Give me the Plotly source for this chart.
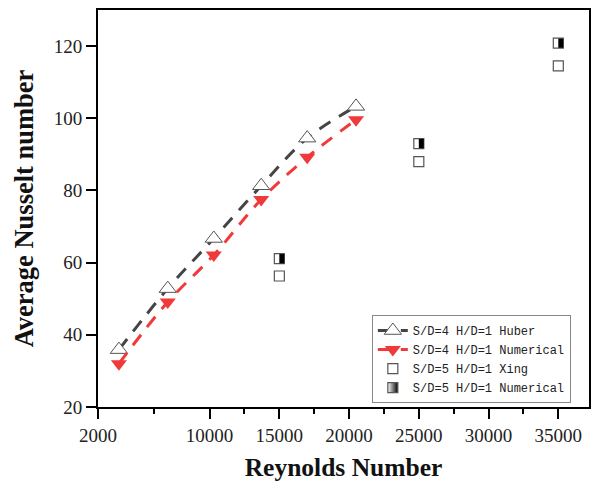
import plotly.graph_objects as go

re_huber = [3500, 7000, 10300, 13700, 17000, 20500]
nu_huber = [35.9, 52.8, 66.7, 81.3, 94.5, 103.3]
re_num4 = [3500, 7000, 10300, 13700, 17000, 20500]
nu_num4 = [32.0, 49.1, 62.1, 77.5, 89.2, 99.6]
re_xing = [15000, 25000, 35000]
nu_xing = [56.3, 88.0, 114.5]
re_num5 = [15000, 25000, 35000]
nu_num5 = [61.1, 93.0, 120.8]

x_ticks = [2000, 10000, 15000, 20000, 25000, 30000, 35000]
x_minor = [6000, 12500, 17500, 22500, 27500, 32500]
y_ticks = [20, 40, 60, 80, 100, 120]

X_RANGE = [2000, 37200]
HALF_SHIFT = 178  # axis offset so the black bar sits on the right half of the square

fig = go.Figure()
fig.add_trace(go.Scatter(
    x=re_huber, y=nu_huber, mode="lines+markers", name="S/D=4 H/D=1 Huber",
    line=dict(color="#454545", width=3, dash="13px,10px", shape="spline"),
    marker=dict(symbol="triangle-up", size=15, color="white",
                line=dict(color="#555555", width=1)),
))
fig.add_trace(go.Scatter(
    x=re_num4, y=nu_num4, mode="lines+markers", name="S/D=4 H/D=1 Numerical",
    line=dict(color="#f03a3a", width=3, dash="13px,10px", shape="spline"),
    marker=dict(symbol="triangle-down", size=14, color="#f03a3a",
                line=dict(color="#f03a3a", width=0)),
))
fig.add_trace(go.Scatter(
    x=re_xing, y=nu_xing, mode="markers", name="S/D=5 H/D=1 Xing",
    marker=dict(symbol="square", size=10, color="white",
                line=dict(color="#555555", width=1.2)),
))
fig.add_trace(go.Scatter(
    x=re_num5, y=nu_num5, mode="markers", showlegend=False,
    marker=dict(symbol="square", size=10, color="white",
                line=dict(color="#555555", width=1.2)),
))
fig.add_trace(go.Scatter(
    x=re_num5, y=nu_num5, mode="markers", showlegend=False, xaxis="x2",
    marker=dict(symbol="line-ns", size=6.6,
                line=dict(color="black", width=5)),
    hoverinfo="skip",
))
fig.add_trace(go.Scatter(
    x=[None], y=[None], mode="markers", name="S/D=5 H/D=1 Numerical",
    marker=dict(symbol="square", size=10, color="white",
                gradient=dict(type="horizontal", color="black"),
                line=dict(color="#555555", width=1.2)),
))

serif = "Liberation Serif"
fig.update_layout(
    width=593, height=490,
    margin=dict(l=98, r=2, t=10, b=83),
    plot_bgcolor="white", paper_bgcolor="white",
    showlegend=True,
    legend=dict(
        x=0.963, y=0.01, xanchor="right", yanchor="bottom",
        bgcolor="white", bordercolor="#888888", borderwidth=1,
        font=dict(family="Liberation Mono", size=12, color="#222222"),
        tracegroupgap=0, itemwidth=30,
    ),
    xaxis=dict(
        range=X_RANGE, tickmode="array", tickvals=x_ticks,
        ticktext=[str(v) for v in x_ticks],
        showline=True, linecolor="black", linewidth=2, mirror=True,
        ticks="outside", ticklen=10, tickwidth=2, tickcolor="black",
        minor=dict(tickmode="array", tickvals=x_minor, ticks="outside",
                   ticklen=5, tickwidth=2, tickcolor="black", showgrid=False),
        showgrid=False, zeroline=False,
        tickfont=dict(family=serif, size=19, color="#222222"),
        title=dict(text="<b>Reynolds Number</b>", standoff=13,
                   font=dict(family=serif, size=25.5, color="#111111")),
    ),
    xaxis2=dict(
        range=[X_RANGE[0] - HALF_SHIFT, X_RANGE[1] - HALF_SHIFT],
        overlaying="x", visible=False,
    ),
    yaxis=dict(
        range=[20, 130], tickmode="array", tickvals=y_ticks,
        showline=True, linecolor="black", linewidth=2, mirror=True,
        ticks="outside", ticklen=10, tickwidth=2, tickcolor="black",
        showgrid=False, zeroline=False,
        tickfont=dict(family=serif, size=19, color="#222222"),
        title=dict(text="<b>Average Nusselt number</b>", standoff=12,
                   font=dict(family=serif, size=26.5, color="#111111")),
    ),
)

fig.write_html("out.html")
